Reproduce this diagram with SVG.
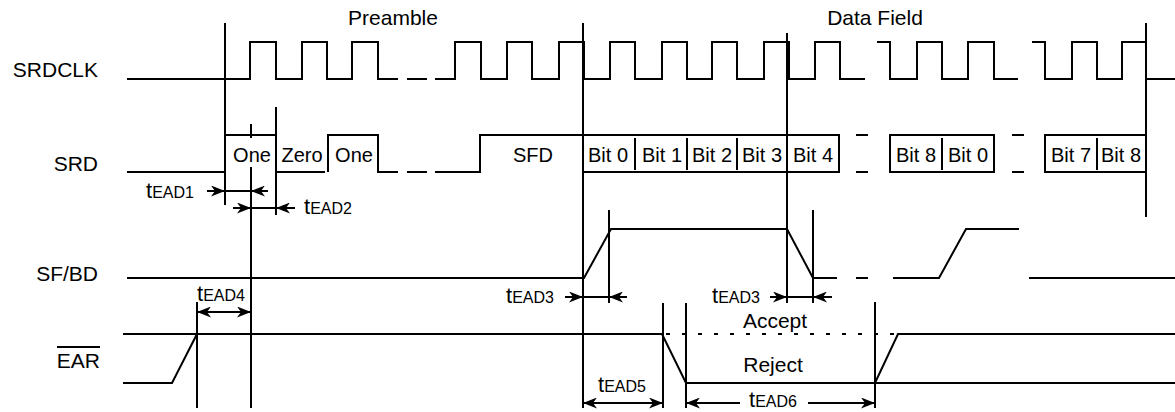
<svg xmlns="http://www.w3.org/2000/svg" width="1175" height="412" viewBox="0 0 1175 412">
<style>
.w{fill:none;stroke:#000;stroke-width:2;stroke-linejoin:miter;stroke-linecap:butt}
.g{fill:none;stroke:#000;stroke-width:2}
.a{fill:none;stroke:#000;stroke-width:2;marker-end:url(#ah)}
.d{fill:none;stroke:#000;stroke-width:2;marker-start:url(#ah);marker-end:url(#ah)}
.dot{fill:none;stroke:#000;stroke-width:2;stroke-dasharray:4 12}
text{font-family:"Liberation Sans",Arial,sans-serif;fill:#000}
.lb{font-size:21px}
.bt{font-size:20px;text-anchor:middle}
.t{font-size:22px}
.s{font-size:16px}
</style>
<defs>
<marker id="ah" viewBox="0 0 14 11" refX="14" refY="5.5" markerWidth="14" markerHeight="11" markerUnits="userSpaceOnUse" orient="auto-start-reverse">
<path d="M0,0 L14,5.5 L0,11 L4,5.5 z" fill="#000"/>
</marker>
</defs>
<g id="labels">
<text class="lb" x="98" y="77" text-anchor="end">SRDCLK</text>
<text class="lb" x="98" y="171" text-anchor="end">SRD</text>
<text class="lb" x="98" y="281" text-anchor="end">SF/BD</text>
<text class="lb" x="100" y="368" text-anchor="end">EAR</text>
<line class="g" x1="57" y1="347" x2="100" y2="347"/>
<text class="lb" x="393" y="25" text-anchor="middle">Preamble</text>
<text class="lb" x="875" y="25" text-anchor="middle">Data Field</text>
</g>
<g id="srdclk">
<path class="w" d="M127,79 H250 V42 H276 V79 H302 V42 H327 V79 H352 V42 H378 V79 H398 M407,79 H427 M435,79 H455 V42 H481 V79 H507 V42 H532 V79 H559 V42 H584 V79 H610 V42 H635 V79 H662 V42 H687 V79 H712 V42 H737 V79 H764 V42 H789 V79 H815 V42 H840 V79 H865 M877,42 H890 V79 H917 V42 H942 V79 H968 V42 H994 V79 H1018 M1032,42 H1045 V79 H1072 V42 H1097 V79 H1122 V42 H1146 V79 H1175"/>
</g>
<g id="srd">
<path class="w" d="M127,172 H225 V135 H276 V172 H325 M328,172 V135 H378 V172 H398 M407,172 H427 M435,172 H480 V135 H583"/>
<rect class="w" x="583" y="135" width="256" height="37"/>
<path class="w" d="M635,138 V170 M687,138 V170 M737,138 V170"/>
<path class="w" d="M856,135 H868 M856,172 H868 M1012,135 H1024 M1012,172 H1024"/>
<rect class="w" x="890" y="135" width="104" height="37"/>
<path class="w" d="M942,138 V170"/>
<rect class="w" x="1045" y="135" width="101" height="37"/>
<path class="w" d="M1097,138 V170"/>
<text class="bt" x="252" y="162">One</text>
<text class="bt" x="302" y="162">Zero</text>
<text class="bt" x="354" y="162">One</text>
<text class="bt" x="533" y="162">SFD</text>
<text class="bt" x="608" y="162">Bit 0</text>
<text class="bt" x="662" y="162">Bit 1</text>
<text class="bt" x="712" y="162">Bit 2</text>
<text class="bt" x="762" y="162">Bit 3</text>
<text class="bt" x="813" y="162">Bit 4</text>
<text class="bt" x="916" y="162">Bit 8</text>
<text class="bt" x="968" y="162">Bit 0</text>
<text class="bt" x="1071" y="162">Bit 7</text>
<text class="bt" x="1121" y="162">Bit 8</text>
</g>
<g id="sfbd">
<path class="w" d="M127,278 H584 L611,229 H787 L813,278 H837 M856,278 H868 M893,278 H939 L966,229 H1019 M1029,278 H1175"/>
</g>
<g id="ear">
<path class="w" d="M123,383 H172 L197,334 M123,334 H662 L686,383 H875 L898,334 H1175 M875,383 H1175"/>
<path class="dot" d="M666,334 H898"/>
<text class="lb" x="775" y="328" text-anchor="middle">Accept</text>
<text class="lb" x="773" y="372" text-anchor="middle">Reject</text>
</g>
<g id="connectors">
<path class="g" d="M225,23 V205 M251,124 V138 M251,167 V408 M276,107 V215 M583,23 V408 M787,33 V303 M609,210 V303 M813,210 V303 M1146,23 V217 M197,302 V408 M663,303 V408 M686,303 V408 M875,302 V408"/>
<path class="a" d="M207,191 H225"/>
<path class="g" d="M225,191 H251"/>
<path class="a" d="M268,191 H251"/>
<path class="a" d="M233,208 H251"/>
<path class="g" d="M251,208 H276"/>
<path class="a" d="M295,208 H276"/>
<path class="a" d="M565,297 H583"/>
<path class="g" d="M583,297 H609"/>
<path class="a" d="M627,297 H609"/>
<path class="a" d="M770,297 H787"/>
<path class="g" d="M787,297 H813"/>
<path class="a" d="M832,297 H813"/>
<path class="d" d="M197,312 H251"/>
<path class="d" d="M583,403 H663"/>
<path class="a" d="M740,403 H686"/>
<path class="a" d="M808,403 H875"/>
</g>
<g id="timing-labels">
<text x="146" y="198"><tspan class="t">t</tspan><tspan class="s">EAD1</tspan></text>
<text x="304" y="214"><tspan class="t">t</tspan><tspan class="s">EAD2</tspan></text>
<text x="197" y="301"><tspan class="t">t</tspan><tspan class="s">EAD4</tspan></text>
<text x="506" y="303"><tspan class="t">t</tspan><tspan class="s">EAD3</tspan></text>
<text x="712" y="303"><tspan class="t">t</tspan><tspan class="s">EAD3</tspan></text>
<text x="598" y="392"><tspan class="t">t</tspan><tspan class="s">EAD5</tspan></text>
<text x="749" y="407"><tspan class="t">t</tspan><tspan class="s">EAD6</tspan></text>
</g>
</svg>
